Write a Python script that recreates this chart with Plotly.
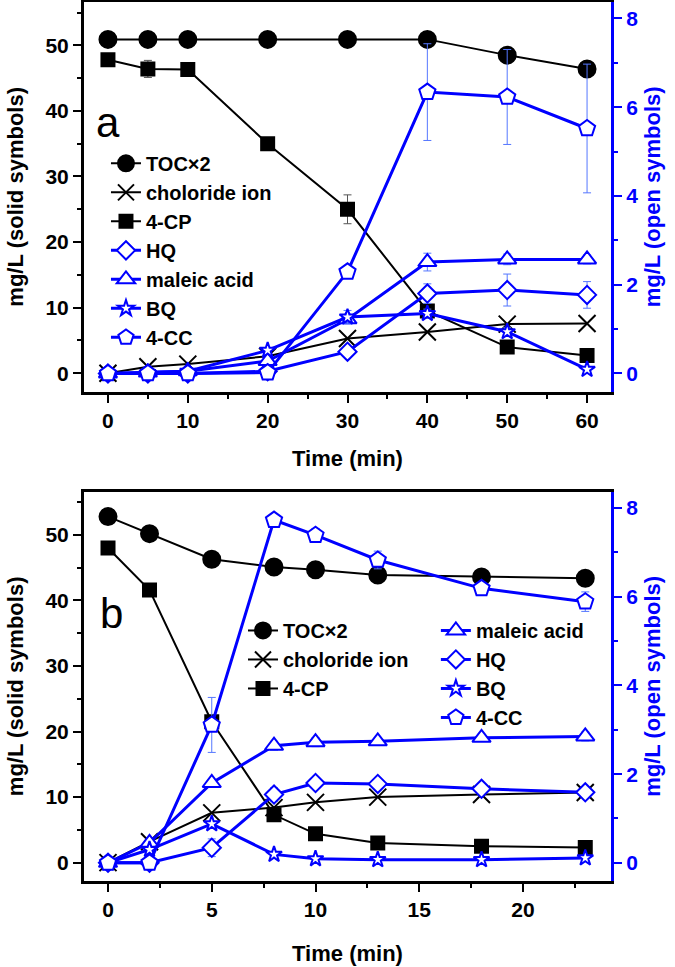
import plotly.graph_objects as go

# ---------------- data: panel a ----------------
time_a = [0, 5, 10, 20, 30, 40, 50, 60]
toc_a = [50.9, 50.9, 50.9, 50.9, 50.9, 50.9, 48.5, 46.4]
chloride_a = [0.0, 1.0, 1.4, 2.6, 5.3, 6.3, 7.5, 7.6]
cp_a = [47.8, 46.4, 46.3, 35.0, 25.0, 9.5, 4.0, 2.7]
cp_a_err = [0, 1.3, 0, 0, 2.2, 0.8, 0, 0]
hq_a = [0.0, 0.0, 0.0, 0.05, 0.49, 1.80, 1.88, 1.77]
hq_a_err = [0, 0, 0, 0, 0, 0.22, 0.36, 0.3]
maleic_a = [0.0, 0.02, 0.05, 0.28, 1.22, 2.51, 2.57, 2.57]
maleic_a_err = [0, 0, 0, 0, 0.1, 0.2, 0.12, 0.1]
bq_a = [0.0, 0.02, 0.05, 0.52, 1.27, 1.35, 0.94, 0.09]
bq_a_err = [0, 0, 0, 0, 0.15, 0.1, 0.1, 0]
cc_a = [0.0, 0.0, 0.0, 0.02, 2.29, 6.34, 6.23, 5.52]
cc_a_err = [0, 0, 0, 0.1, 0.1, 1.09, 1.07, 1.45]

# ---------------- data: panel b ----------------
time_b = [0, 2, 5, 8, 10, 13, 18, 23]
toc_b = [52.8, 50.2, 46.3, 45.1, 44.7, 43.9, 43.6, 43.4]
toc_b_err = [0, 0, 0, 0, 0, 0.5, 0, 0]
chloride_b = [0.0, 3.2, 7.6, 8.4, 9.2, 10.0, 10.4, 10.7]
cp_b = [48.0, 41.6, 21.5, 7.3, 4.4, 3.0, 2.5, 2.3]
maleic_b = [0.0, 0.45, 1.80, 2.64, 2.72, 2.74, 2.82, 2.85]
maleic_b_err = [0, 0, 0, 0.1, 0.1, 0.05, 0.08, 0.1]
hq_b = [0.0, 0.0, 0.34, 1.54, 1.80, 1.78, 1.67, 1.59]
hq_b_err = [0, 0, 0.2, 0.15, 0.1, 0.08, 0.05, 0]
bq_b = [0.0, 0.30, 0.88, 0.19, 0.09, 0.07, 0.07, 0.11]
cc_b = [0.0, 0.0, 3.11, 7.73, 7.39, 6.83, 6.19, 5.89]
cc_b_err = [0, 0, 0.62, 0.1, 0.15, 0.2, 0.05, 0.22]

BLUE = "#0000FF"
BLACK = "#000000"
FONT = "Liberation Sans"

fig = go.Figure()


def solid(x, y, name, symbol, size, xa, ya, legend, err=None):
    tr = dict(
        x=x, y=y, name=name, mode="lines+markers", xaxis=xa, yaxis=ya,
        legend=legend,
        line=dict(color=BLACK, width=2),
        marker=dict(symbol=symbol, size=size, color=BLACK,
                    line=dict(color=BLACK, width=2)),
    )
    if err is not None:
        tr["error_y"] = dict(type="data", array=err, visible=True,
                             color="#555555", thickness=1, width=4)
    fig.add_trace(go.Scatter(**tr))


def opn(x, y, name, symbol, size, xa, ya, legend, err=None):
    tr = dict(
        x=x, y=y, name=name, mode="lines+markers", xaxis=xa, yaxis=ya,
        legend=legend,
        line=dict(color=BLUE, width=3),
        marker=dict(symbol=symbol, size=size, color="white",
                    line=dict(color=BLUE, width=2)),
    )
    if err is not None:
        tr["error_y"] = dict(type="data", array=err, visible=True,
                             color="#5577FF", thickness=1, width=4)
    fig.add_trace(go.Scatter(**tr))


# panel a
solid(time_a, toc_a, "TOC×2", "circle", 17, "x", "y", "legend")
solid(time_a, chloride_a, "choloride ion", "x-thin", 17, "x", "y", "legend")
solid(time_a, cp_a, "4-CP", "square", 13, "x", "y", "legend", cp_a_err)
opn(time_a, hq_a, "HQ", "diamond", 14, "x", "y2", "legend", hq_a_err)
opn(time_a, maleic_a, "maleic acid", "triangle-up", 16, "x", "y2", "legend", maleic_a_err)
opn(time_a, bq_a, "BQ", "star", 12, "x", "y2", "legend", bq_a_err)
opn(time_a, cc_a, "4-CC", "pentagon", 17, "x", "y2", "legend", cc_a_err)

# panel b
solid(time_b, toc_b, "TOC×2", "circle", 17, "x2", "y3", "legend2", toc_b_err)
solid(time_b, chloride_b, "choloride ion", "x-thin", 17, "x2", "y3", "legend2")
solid(time_b, cp_b, "4-CP", "square", 13, "x2", "y3", "legend2")
opn(time_b, maleic_b, "maleic acid", "triangle-up", 16, "x2", "y4", "legend3", maleic_b_err)
opn(time_b, hq_b, "HQ", "diamond", 14, "x2", "y4", "legend3", hq_b_err)
opn(time_b, bq_b, "BQ", "star", 12, "x2", "y4", "legend3")
opn(time_b, cc_b, "4-CC", "pentagon", 17, "x2", "y4", "legend3", cc_b_err)

tickfont = dict(family=FONT, size=21, color=BLACK, weight="bold")
tickfont_b = dict(family=FONT, size=21, color=BLUE, weight="bold")
titlefont = dict(family=FONT, size=22, color=BLACK, weight="bold")
titlefont_b = dict(family=FONT, size=22, color=BLUE, weight="bold")

dom_a = [0.5567, 1.0]
dom_b = [0.0, 0.4429]


def xaxis(rng, dtick, mdtick, anchor, standoff):
    return dict(
        range=rng, dtick=dtick, tick0=0, anchor=anchor, automargin=False,
        showline=True, linecolor=BLACK, linewidth=3, mirror=True,
        ticks="outside", ticklen=8, tickwidth=2, tickcolor=BLACK,
        minor=dict(dtick=mdtick, tick0=0, ticks="outside", ticklen=4,
                   tickwidth=2, tickcolor=BLACK, showgrid=False),
        showgrid=False, zeroline=False, tickfont=tickfont,
        title=dict(text="Time (min)", font=titlefont, standoff=standoff),
    )


def yleft(domain, anchor):
    return dict(
        domain=domain, range=[-2.8, 56.6], dtick=10, tick0=0, anchor=anchor,
        automargin=False,
        showline=True, linecolor=BLACK, linewidth=3,
        ticks="outside", ticklen=8, tickwidth=2, tickcolor=BLACK,
        minor=dict(dtick=5, tick0=0, ticks="outside", ticklen=4,
                   tickwidth=2, tickcolor=BLACK, showgrid=False),
        showgrid=False, zeroline=False, tickfont=tickfont,
        title=dict(text="mg/L (solid symbols)", font=titlefont, standoff=16),
    )


def yright(overlay, anchor):
    return dict(
        overlaying=overlay, side="right", anchor=anchor, automargin=False,
        range=[-0.41, 8.37], dtick=2, tick0=0,
        showline=True, linecolor=BLUE, linewidth=3,
        ticks="outside", ticklen=8, tickwidth=2, tickcolor=BLUE,
        minor=dict(dtick=1, tick0=0, ticks="outside", ticklen=4,
                   tickwidth=2, tickcolor=BLUE, showgrid=False),
        showgrid=False, zeroline=False, tickfont=tickfont_b,
        title=dict(text="mg/L (open symbols)", font=titlefont_b, standoff=8),
    )


legfont = dict(family=FONT, size=20, color=BLACK, weight="bold")

fig.update_layout(
    width=675, height=967,
    margin=dict(l=84, r=64, t=2, b=86),
    paper_bgcolor="white", plot_bgcolor="white",
    xaxis=xaxis([-3.0, 63.0], 10, 5, "y", 20),
    yaxis=yleft(dom_a, "x"),
    yaxis2=yright("y", "x"),
    xaxis2=xaxis([-1.157, 24.24], 5, 2.5, "y3", 26),
    yaxis3=yleft(dom_b, "x2"),
    yaxis4=yright("y3", "x2"),
    legend=dict(x=0.0417, y=0.8386, xanchor="left", yanchor="top",
                bgcolor="rgba(0,0,0,0)", font=legfont, itemwidth=30,
                tracegroupgap=0),
    legend2=dict(x=0.3017, y=0.3072, xanchor="left", yanchor="top",
                 bgcolor="rgba(0,0,0,0)", font=legfont, itemwidth=30),
    legend3=dict(x=0.6677, y=0.3072, xanchor="left", yanchor="top",
                 bgcolor="rgba(0,0,0,0)", font=legfont, itemwidth=30),
    annotations=[
        dict(text="a", x=0.0, y=38.2, xref="x", yref="y", showarrow=False,
             font=dict(family=FONT, size=42, color=BLACK), xanchor="center",
             yanchor="middle"),
        dict(text="b", x=0.15, y=38.0, xref="x2", yref="y3", showarrow=False,
             font=dict(family=FONT, size=42, color=BLACK), xanchor="center",
             yanchor="middle"),
    ],
)

fig.write_html(
    "out.html",
    config={"displayModeBar": False},
    post_script="document.body.style.margin='0';document.body.style.overflow='hidden';",
)
